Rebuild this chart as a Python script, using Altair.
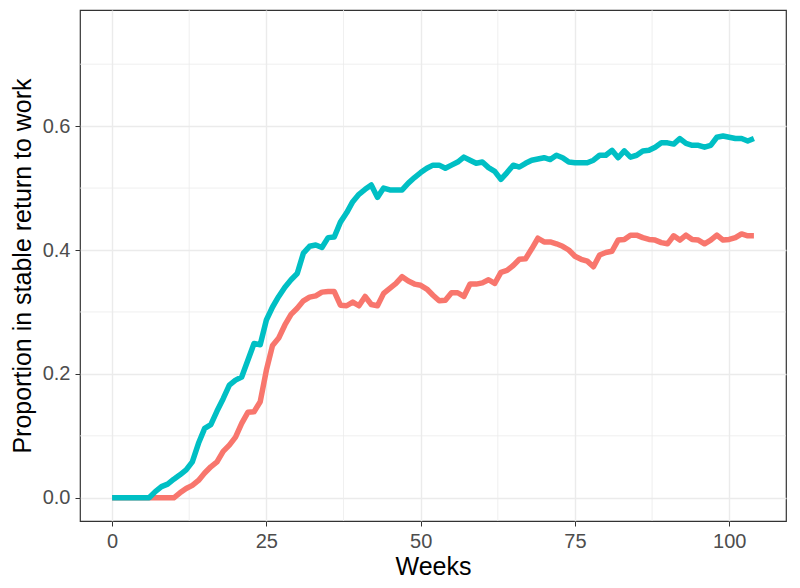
import altair as alt
import pandas as pd

weeks = list(range(0, 105))

teal_vals = [
    0, 0, 0, 0, 0, 0, 0, 0.01, 0.018, 0.022,
    0.03, 0.037, 0.045, 0.058, 0.088, 0.112, 0.118, 0.14, 0.16, 0.182,
    0.19, 0.195, 0.222, 0.249, 0.247, 0.287, 0.308, 0.325, 0.34, 0.352,
    0.362, 0.395, 0.406, 0.408, 0.404, 0.42, 0.421, 0.445, 0.46, 0.478,
    0.49, 0.498, 0.505, 0.485, 0.5, 0.497, 0.497, 0.497, 0.508, 0.517,
    0.525, 0.532, 0.537, 0.537, 0.532, 0.537, 0.542, 0.55, 0.545, 0.54,
    0.542, 0.533, 0.527, 0.514, 0.525, 0.537, 0.534, 0.54, 0.545, 0.547,
    0.549, 0.546, 0.553, 0.549, 0.542, 0.541, 0.541, 0.541, 0.545, 0.553,
    0.553, 0.561, 0.549, 0.56, 0.55, 0.553, 0.56, 0.561, 0.566, 0.573,
    0.573, 0.571, 0.58, 0.572, 0.569, 0.569, 0.566, 0.569, 0.582, 0.584,
    0.582, 0.58, 0.58, 0.576, 0.58,
]

red_vals = [
    0, 0, 0, 0, 0, 0, 0, 0, 0, 0,
    0, 0.008, 0.015, 0.02, 0.028, 0.04, 0.05, 0.058, 0.075, 0.085,
    0.098, 0.12, 0.138, 0.139, 0.155, 0.206, 0.246, 0.258, 0.279, 0.296,
    0.306, 0.318, 0.324, 0.326, 0.332, 0.333, 0.333, 0.311, 0.31, 0.316,
    0.31, 0.325, 0.312, 0.31, 0.33, 0.338, 0.346, 0.357, 0.35, 0.345,
    0.343, 0.337, 0.327, 0.318, 0.319, 0.331, 0.331, 0.325, 0.345, 0.345,
    0.347, 0.352, 0.346, 0.364, 0.367, 0.375, 0.385, 0.386, 0.402, 0.419,
    0.413, 0.413, 0.41, 0.406, 0.4, 0.39, 0.385, 0.382, 0.373, 0.392,
    0.396, 0.398, 0.416, 0.417, 0.424, 0.424, 0.42, 0.417, 0.416, 0.412,
    0.41, 0.423, 0.416, 0.424, 0.417, 0.416, 0.41, 0.416, 0.424, 0.416,
    0.417, 0.42, 0.426, 0.423, 0.423,
]

x_ticks = [0, 25, 50, 75, 100]
y_ticks = [0.0, 0.2, 0.4, 0.6]
x_minor = [12.5, 37.5, 62.5, 87.5]
y_minor = [0.1, 0.3, 0.5, 0.7]

df = pd.DataFrame({"week": weeks, "teal": teal_vals, "red": red_vals})
df_xm = pd.DataFrame({"xm": x_minor})
df_ym = pd.DataFrame({"ym": y_minor})

FONT = "Liberation Sans"
GRID = "#EBEBEB"

xscale = alt.Scale(domain=[-5.2, 109.2], nice=False, zero=False)
yscale = alt.Scale(domain=[-0.0375, 0.7875], nice=False, zero=False)

xaxis = alt.Axis(
    title="Weeks", values=x_ticks, format="d", grid=True, gridColor=GRID,
    gridWidth=1.4, domain=False, ticks=True, tickSize=5, tickColor="#333333",
    tickWidth=1, labelFont=FONT, labelFontSize=20, labelColor="#4D4D4D",
    labelPadding=5, titleFont=FONT, titleFontSize=25, titleFontWeight="normal",
    titleColor="#000000", titleBaseline="alphabetic", titleY=53,
)
yaxis = alt.Axis(
    title="Proportion in stable return to work", values=y_ticks, format=".1f",
    grid=True, gridColor=GRID, gridWidth=1.4, domain=False, ticks=True,
    tickSize=5, tickColor="#333333", tickWidth=1, labelFont=FONT,
    labelFontSize=20, labelColor="#4D4D4D", labelPadding=5, titleFont=FONT,
    titleFontSize=25, titleFontWeight="normal", titleColor="#000000",
    titleAngle=270, titleX=-70, titleY=255.5, titleAlign="center",
    titleBaseline="top",
)

base = alt.Chart(df)

minor_x = alt.Chart(df_xm).mark_rule(color=GRID, strokeWidth=0.8).encode(
    x=alt.X("xm:Q", scale=xscale, axis=xaxis)
)
minor_y = alt.Chart(df_ym).mark_rule(color=GRID, strokeWidth=0.8).encode(
    y=alt.Y("ym:Q", scale=yscale, axis=yaxis)
)

red_line = base.mark_line(color="#F8766D", strokeWidth=5.5, strokeJoin="round").encode(
    x=alt.X("week:Q", scale=xscale, axis=xaxis),
    y=alt.Y("red:Q", scale=yscale, axis=yaxis),
)
teal_line = base.mark_line(color="#00BFC4", strokeWidth=5.5, strokeJoin="round").encode(
    x=alt.X("week:Q", scale=xscale, axis=xaxis),
    y=alt.Y("teal:Q", scale=yscale, axis=yaxis),
)

chart = alt.layer(minor_x, minor_y, red_line, teal_line).properties(
    width=706, height=511,
    autosize=alt.AutoSizeParams(type="none"),
    padding={"left": 72, "top": 2, "right": 6, "bottom": 59},
    background="white",
).configure_view(stroke="#333333", strokeWidth=1.2)

chart.save("out.html", embed_options={"renderer": "svg", "actions": False})
